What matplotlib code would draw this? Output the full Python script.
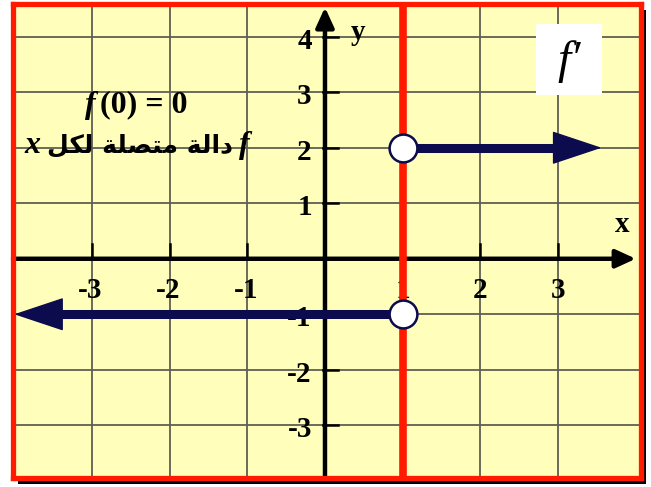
import matplotlib
matplotlib.use("Agg")
import matplotlib.pyplot as plt
from matplotlib.patches import Rectangle

# ---- data ----
x_ticks = [-3, -2, -1, 1, 2, 3]
y_ticks = [-3, -2, -1, 1, 2, 3, 4]
x_tick_labels = ["-3", "-2", "-1", "1", "2", "3"]
y_tick_labels = ["-3", "-2", "-1", "1", "2", "3", "4"]
x_break = 1
left_value = -1
right_value = 2
left_end = -4.0
right_end = 3.56
xlim = (-4.015, 4.067)
ylim = (-3.95, 4.59)

W, H = 651, 487
fig = plt.figure(figsize=(W / 100, H / 100), dpi=100)
fig.patch.set_facecolor("white")

ax_l, ax_r, ax_t, ax_b = 13, 641, 4, 478
# shadow
shadow = Rectangle(((ax_l + 5) / W, (H - ax_b - 6) / H), (ax_r - ax_l) / W, (ax_b - ax_t) / H,
                   transform=fig.transFigure, facecolor="black", edgecolor="none", zorder=-5)
fig.add_artist(shadow)
ax = fig.add_axes([ax_l / W, (H - ax_b) / H, (ax_r - ax_l) / W, (ax_b - ax_t) / H])
ax.set_zorder(2)
ax.set_facecolor("#ffffbb")
ax.set_xlim(*xlim)
ax.set_ylim(*ylim)
ax.set_xticks([])
ax.set_yticks([])
for s in ax.spines.values():
    s.set_color("#ff1a00")
    s.set_linewidth(3.8)
    s.set_zorder(10)

grid_c = "#5f5f55"
for xv in x_ticks:
    ax.axvline(xv, color=grid_c, lw=1.3, zorder=1)
for yv in y_ticks:
    ax.axhline(yv, color=grid_c, lw=1.3, zorder=1)

# axes with arrows
ax.annotate("", xy=(4.0, 0), xytext=(xlim[0], 0),
            arrowprops=dict(arrowstyle="-|>,head_length=1.2,head_width=0.55", lw=3.2, color="black",
                            shrinkA=0, shrinkB=0, mutation_scale=10), zorder=3)
ax.annotate("", xy=(0, 4.53), xytext=(0, ylim[0]),
            arrowprops=dict(arrowstyle="-|>,head_length=1.2,head_width=0.55", lw=3.2, color="black",
                            shrinkA=0, shrinkB=0, mutation_scale=10), zorder=3)

# tick marks
for xv in x_ticks:
    ax.plot([xv, xv], [0, 0.27], color="black", lw=1.8, zorder=3)
for yv in y_ticks:
    ax.plot([-0.02, 0.17], [yv, yv], color="black", lw=1.8, zorder=3)

tfont = dict(family=["Liberation Serif", "DejaVu Serif"], fontweight="bold", fontsize=21)
for xv, lab in zip(x_ticks, x_tick_labels):
    dx = 0.0 if xv > 0 else -0.02
    ax.text(xv + dx, -0.57, lab, ha="center", va="center", zorder=2, **tfont)
for yv, lab in zip(y_ticks, y_tick_labels):
    ax.text(-0.17, yv - 0.08, lab, ha="right", va="center", zorder=2, **tfont)

ax.text(0.42, 4.08, "y", ha="center", va="center", **tfont)
ax.text(3.82, 0.62, "x", ha="center", va="center", **tfont)

# red vertical line
ax.axvline(x_break, color="#ff1a00", lw=5.5, zorder=4)

navy = "#0b0b4d"
# left piece
ax.plot([left_end + 0.4, x_break], [left_value, left_value], color=navy, lw=6.5, solid_capstyle="butt", zorder=5)
ax.annotate("", xy=(left_end, left_value), xytext=(left_end + 0.6, left_value),
            arrowprops=dict(arrowstyle="-|>,head_length=3.3,head_width=1.1", lw=1, color=navy,
                            shrinkA=0, shrinkB=0, mutation_scale=10), zorder=5)
# right piece
ax.plot([x_break, right_end - 0.4], [right_value, right_value], color=navy, lw=6.5, solid_capstyle="butt", zorder=5)
ax.annotate("", xy=(right_end, right_value), xytext=(right_end - 0.6, right_value),
            arrowprops=dict(arrowstyle="-|>,head_length=3.3,head_width=1.1", lw=1, color=navy,
                            shrinkA=0, shrinkB=0, mutation_scale=10), zorder=5)
# open circles
ax.plot([x_break, x_break], [left_value, right_value], ls="none", marker="o", ms=20,
        mfc="white", mec=navy, mew=1.8, zorder=6)

# f' box
ax.add_patch(Rectangle((2.72, 2.95), 0.84, 1.28, facecolor="white", edgecolor="none", zorder=6))
ax.text(3.14, 3.55, "f\u2032", ha="center", va="center", fontsize=34,
        family=["Liberation Serif", "DejaVu Serif"], style="italic", zorder=7)

# annotations: lay out pieces left to right, centred at (cx, cy)
fig.canvas.draw()
renderer = fig.canvas.get_renderer()


def row(pieces, cx, cy, gap=4):
    arts = []
    for txt, kw in pieces:
        arts.append(ax.text(0, cy, txt, ha="left", va="center", zorder=7, **kw))
    widths = [a.get_window_extent(renderer).width for a in arts]
    total = sum(widths) + gap * (len(arts) - 1)
    cxp, _ = ax.transData.transform((cx, cy))
    x = cxp - total / 2
    for a, w in zip(arts, widths):
        xd, _ = ax.transData.inverted().transform((x, 0))
        a.set_x(xd)
        x += w + gap


lat_b = dict(family=["Liberation Serif"], fontweight="bold", fontsize=23)
lat_bi = dict(family=["Liberation Serif"], fontweight="bold", style="italic", fontsize=23)
ar_b = dict(family=["DejaVu Sans"], fontweight="bold", fontsize=18)

row([("f", lat_bi), ("(0) = 0", lat_b)], -2.43, 2.77, gap=5)
arabic = "\uFEDE\uFEDC\uFEDF" + " " + "\uFE94\uFEE0\uFEBC\uFE98\uFEE3" + " " + "\uFE94\uFEDF\uFE8D\uFEA9"
row([("x", lat_bi), (arabic, ar_b), ("f", lat_bi)], -2.42, 2.04, gap=6)

fig.savefig("out.png", dpi=100)
